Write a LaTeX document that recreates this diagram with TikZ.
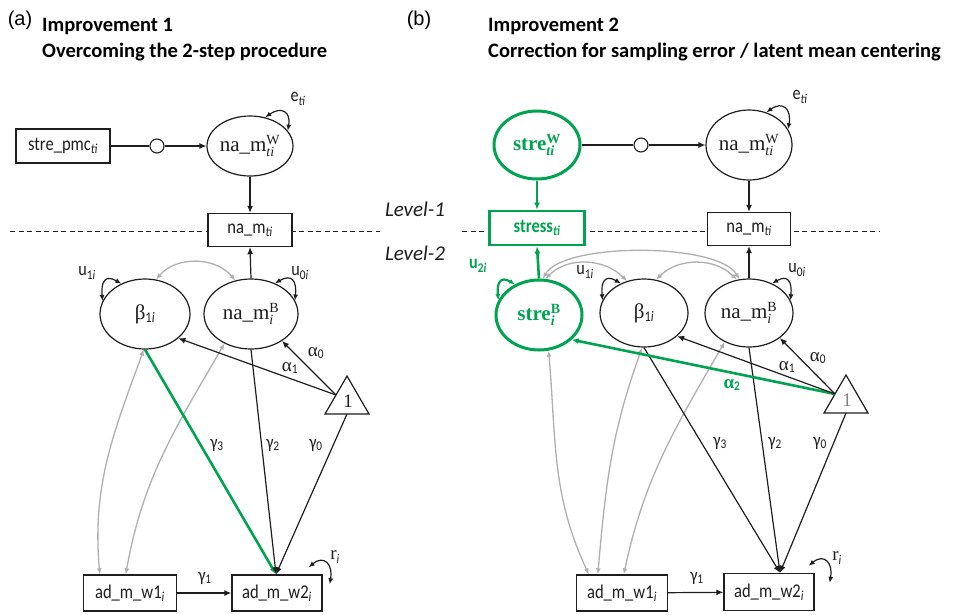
\documentclass[tikz,border=0pt]{standalone}
\usepackage{fontspec}
\setmainfont{Carlito}
\newfontfamily\bodyf{Carlito}[FakeStretch=0.85]
\newfontfamily\serf{Liberation Serif}
\newfontfamily\arialf{Liberation Sans}
\usetikzlibrary{arrows.meta,calc,shapes.geometric}
\definecolor{grn}{RGB}{0,163,80}
\definecolor{lgray}{RGB}{175,175,175}
\definecolor{dk}{RGB}{30,30,30}
\newcommand\sub[1]{\textsubscript{\itshape #1}}
\newcommand\supsub[2]{$^{\mbox{\fontsize{14}{14}\selectfont #1}}_{\mbox{\fontsize{14}{14}\selectfont\itshape #2}}$}
\begin{document}
\begin{tikzpicture}[x=1pt,y=1pt,
  arr/.style={-{Latex[length=7pt,width=6pt]}},
  darr/.style={{Latex[length=6pt,width=5pt]}-{Latex[length=6pt,width=5pt]}},
  conn/.style={draw=dk, line width=1.2pt, arr},
  gconn/.style={draw=grn, line width=2.6pt, -{Latex[length=7pt,width=6pt]}},
  box/.style={draw=dk, line width=1.4pt, rectangle, inner sep=0pt, fill=white, text=dk, font=\bodyf\fontsize{19.5}{19.5}\selectfont},
  lat/.style={draw=dk, line width=1.2pt, ellipse, inner sep=0pt, fill=white, text=dk, font=\serf\fontsize{21}{21}\selectfont},
  gbox/.style={box, draw=grn, line width=2.8pt, text=grn, font=\bodyf\bfseries\fontsize{19.5}{19.5}\selectfont},
  glat/.style={lat, draw=grn, line width=3pt, text=grn, font=\serf\bfseries\fontsize{21}{21}\selectfont},
  knot/.style={circle, draw=dk, line width=1.1pt, minimum size=14pt, inner sep=0pt, fill=white},
  cov/.style={draw=lgray, line width=1.3pt, darr},
  vloop/.style={draw=dk, line width=1.2pt, darr, looseness=1.9},
  lbl/.style={inner sep=0pt, text=dk, font=\bodyf\fontsize{19}{19}\selectfont},
  glbl/.style={inner sep=0pt, text=grn, font=\bodyf\bfseries\fontsize{19}{19}\selectfont},
  ttl/.style={inner sep=0pt, anchor=base west, text=black, font=\bfseries\fontsize{20.5}{20.5}\selectfont},
  lvl/.style={inner sep=0pt, text=dk, font=\itshape\fontsize{21}{21}\selectfont},
]
\useasboundingbox (0,0) rectangle (971,-614);

% titles
\node[inner sep=0pt, font=\arialf\fontsize{20}{20}\selectfont] (ta) at (20,-20) {(a)};
\node[ttl] (t1a) at (42,-31) {Improvement 1};
\node[ttl] (t1b) at (42,-57) {Overcoming the 2-step procedure};
\node[inner sep=0pt, font=\arialf\fontsize{20}{20}\selectfont] (tb) at (419,-20) {(b)};
\node[ttl] (t2a) at (488,-31) {Improvement 2};
\node[ttl] (t2b) at (488,-57) {Correction for sampling error / latent mean centering};

% level separator
\draw[dk, line width=1pt, dash pattern=on 5pt off 3.5pt] (10,-231) -- (380,-231);
\draw[dk, line width=1pt, dash pattern=on 5pt off 3.5pt] (462,-231) -- (880,-231);
\node[lvl] (lv1) at (415,-209) {Level-1};
\node[lvl] (lv2) at (415,-253) {Level-2};

% ---------------- panel (a) ----------------
\node[box, minimum width=94pt, minimum height=34pt] (pmc) at (63,-146) {stre\_pmc\sub{ti}};
\node[knot] (k1) at (157,-146) {};
\node[lat, minimum width=86pt, minimum height=60pt] (naW1) at (250,-146) {na\_m\supsub{W}{ti}};
\node[box, minimum width=84pt, minimum height=33pt] (nat1) at (250,-230) {na\_m\sub{ti}};
\node[lat, minimum width=90pt, minimum height=70pt] (b1) at (145,-314) {β\textsubscript{\bodyf 1\itshape i}};
\node[lat, minimum width=94pt, minimum height=70pt] (naB1) at (251,-314) {na\_m\supsub{B}{i}};
\coordinate (t1top) at (347,-376);
\coordinate (t1l) at (325,-414);
\coordinate (t1r) at (369,-414);
\coordinate (t1base) at (347,-414);
\coordinate (t1side) at ($(t1top)!0.5!(t1l)$);
\draw[dk, line width=1.2pt, fill=white] (t1top) -- (t1l) -- (t1r) -- cycle;
\node[inner sep=0pt, text=dk, font=\serf\fontsize{19}{19}\selectfont] (one1) at (348,-401) {1};
\node[box, minimum width=93pt, minimum height=36pt] (w11) at (130,-593) {ad\_m\_w1\sub{i}};
\node[box, minimum width=90pt, minimum height=36pt] (w21) at (277,-593) {ad\_m\_w2\sub{i}};
\coordinate (c1) at ($(w21.north)+(-1,0)$);
\coordinate (w11a) at ($(w11.north west)+(17,0)$);
\coordinate (w11b) at ($(w11.north west)+(43,0)$);
\coordinate (r1a) at ($(w21.north east)+(-14,7)$);
\coordinate (r1b) at ($(w21.north east)+(7,-10)$);

\draw[conn, -] (pmc.east) -- (k1.west);
\draw[conn] (k1.east) -- (naW1.west);
\draw[conn] (naW1) -- (nat1);
\draw[conn] (naB1.north) -- (nat1.south);
\draw[cov] (b1.72) to[out=50,in=130] (naB1.115);
\draw[cov] (b1.-92) to[out=250,in=95] (w11a);
\draw[cov] (naB1.228) to[out=240,in=80] (w11b);
\draw[gconn] (b1.south) -- (c1);
\draw[conn] (naB1.south) -- (c1);
\draw[conn] (t1base) -- (c1);
\draw[conn] (t1side) -- (b1.-36);
\draw[conn] (t1side) -- (naB1.-41);
\draw[conn] (w11) -- (w21);
\draw[vloop] (b1.128) to[out=150,in=95] (b1.163);
\draw[vloop] (naB1.52) to[out=30,in=85] (naB1.17);
\draw[vloop] (naW1.62) to[out=35,in=80] (naW1.22);
\draw[vloop] (r1a) to[out=40,in=80] (r1b);

\node[lbl] (e1) at (298,-99) {e\sub{ti}};
\node[lbl] (u11) at (87,-273) {u\textsubscript{1\itshape i}};
\node[lbl] (u01) at (300,-273) {u\textsubscript{0\itshape i}};
\node[lbl] (a01) at (316,-353) {{\serf α}\textsubscript{0}};
\node[lbl] (a11) at (290,-368) {{\serf α}\textsubscript{1}};
\node[lbl] (g31) at (217,-445) {γ\textsubscript{3}};
\node[lbl] (g21) at (273,-445) {γ\textsubscript{2}};
\node[lbl] (g01) at (316,-445) {γ\textsubscript{0}};
\node[lbl] (g11) at (205,-578) {γ\textsubscript{1}};
\node[lbl] (ri1) at (335,-557) {{\serf r}\sub{i}};

% ---------------- panel (b) ----------------
\node[glat, minimum width=86pt, minimum height=68pt] (sW) at (537,-145) {stre\supsub{W}{ti}};
\node[knot] (k2) at (641,-145) {};
\node[lat, minimum width=86pt, minimum height=70pt] (naW2) at (749,-145) {na\_m\supsub{W}{ti}};
\node[gbox, minimum width=95pt, minimum height=34pt] (st) at (537,-228) {stress\sub{ti}};
\node[box, minimum width=83pt, minimum height=33pt] (nat2) at (749,-229) {na\_m\sub{ti}};
\node[glat, minimum width=86pt, minimum height=70pt] (sB) at (539,-315) {stre\supsub{B}{i}};
\node[lat, minimum width=88pt, minimum height=68pt] (b2) at (644,-313) {β\textsubscript{\bodyf 1\itshape i}};
\node[lat, minimum width=88pt, minimum height=68pt] (naB2) at (749,-313) {na\_m\supsub{B}{i}};
\coordinate (t2top) at (846,-375);
\coordinate (t2l) at (824,-413);
\coordinate (t2r) at (868,-413);
\coordinate (t2base) at (846,-413);
\coordinate (t2side) at ($(t2top)!0.5!(t2l)$);
\draw[dk, line width=1.2pt, fill=white] (t2top) -- (t2l) -- (t2r) -- cycle;
\node[inner sep=0pt, text=gray, font=\serf\fontsize{19}{19}\selectfont] (one2) at (847,-400) {1};
\node[box, minimum width=91pt, minimum height=36pt] (w12) at (622,-593) {ad\_m\_w1\sub{i}};
\node[box, minimum width=90pt, minimum height=37pt] (w22) at (769,-592) {ad\_m\_w2\sub{i}};
\coordinate (c2) at ($(w22.north)+(11,0)$);
\coordinate (w12a) at ($(w12.north west)+(13,0)$);
\coordinate (w12b) at ($(w12.north west)+(22,0)$);
\coordinate (w12c) at ($(w12.north west)+(48,0)$);
\coordinate (r2a) at ($(w22.north east)+(-6,7)$);
\coordinate (r2b) at ($(w22.north east)+(15,-10)$);

\draw[conn, -] (sW.east) -- (k2.west);
\draw[conn] (k2.east) -- (naW2.west);
\draw[gconn] (sW) -- (st);
\draw[gconn] (sB.north) -- (st.south);
\draw[conn] (naW2) -- (nat2);
\draw[conn] (naB2.north) -- (nat2.south);
\draw[cov] (sB.80) to[out=45,in=135] (b2.118);
\draw[cov] (b2.70) to[out=45,in=135] (naB2.110);
\draw[cov] (sB.84) to[out=60,in=120,looseness=0.55] (naB2.106);
\draw[cov] (sB.-75) to[out=-85,in=115] (w12a);
\draw[cov] (b2.-93) to[out=250,in=85] (w12b);
\draw[cov] (naB2.230) to[out=240,in=78] (w12c);
\draw[conn] (b2.south) -- (c2);
\draw[conn] (naB2.south) -- (c2);
\draw[conn] (t2base) -- (c2);
\draw[gconn] (t2side) -- (sB.-37);
\draw[conn] (t2side) -- (b2.-35);
\draw[conn] (t2side) -- (naB2.-39);
\draw[conn] (w12) -- (w22);
\draw[vloop, draw=grn, line width=2.2pt, {Latex[length=6pt,width=5pt]}-{Latex[length=6pt,width=5pt]}] (sB.128) to[out=150,in=95] (sB.160);
\draw[vloop] (b2.128) to[out=150,in=95] (b2.163);
\draw[vloop] (naB2.52) to[out=30,in=85] (naB2.17);
\draw[vloop] (naW2.62) to[out=35,in=80] (naW2.22);
\draw[vloop] (r2a) to[out=40,in=80] (r2b);

\node[lbl] (e2) at (800,-97) {e\sub{ti}};
\node[glbl] (u22) at (478,-266) {u\textsubscript{2\itshape i}};
\node[lbl] (u12) at (585,-272) {u\textsubscript{1\itshape i}};
\node[lbl] (u02) at (797,-270) {u\textsubscript{0\itshape i}};
\node[lbl] (a02) at (818,-358) {{\serf α}\textsubscript{0}};
\node[lbl] (a12) at (787,-367) {{\serf α}\textsubscript{1}};
\node[glbl] (a22) at (732,-385) {{\serf\bfseries α}\textsubscript{2}};
\node[lbl] (g32) at (720,-443) {γ\textsubscript{3}};
\node[lbl] (g22) at (775,-443) {γ\textsubscript{2}};
\node[lbl] (g02) at (820,-443) {γ\textsubscript{0}};
\node[lbl] (g12) at (697,-578) {γ\textsubscript{1}};
\node[lbl] (ri2) at (837,-558) {{\serf r}\sub{i}};
\end{tikzpicture}
\end{document}
